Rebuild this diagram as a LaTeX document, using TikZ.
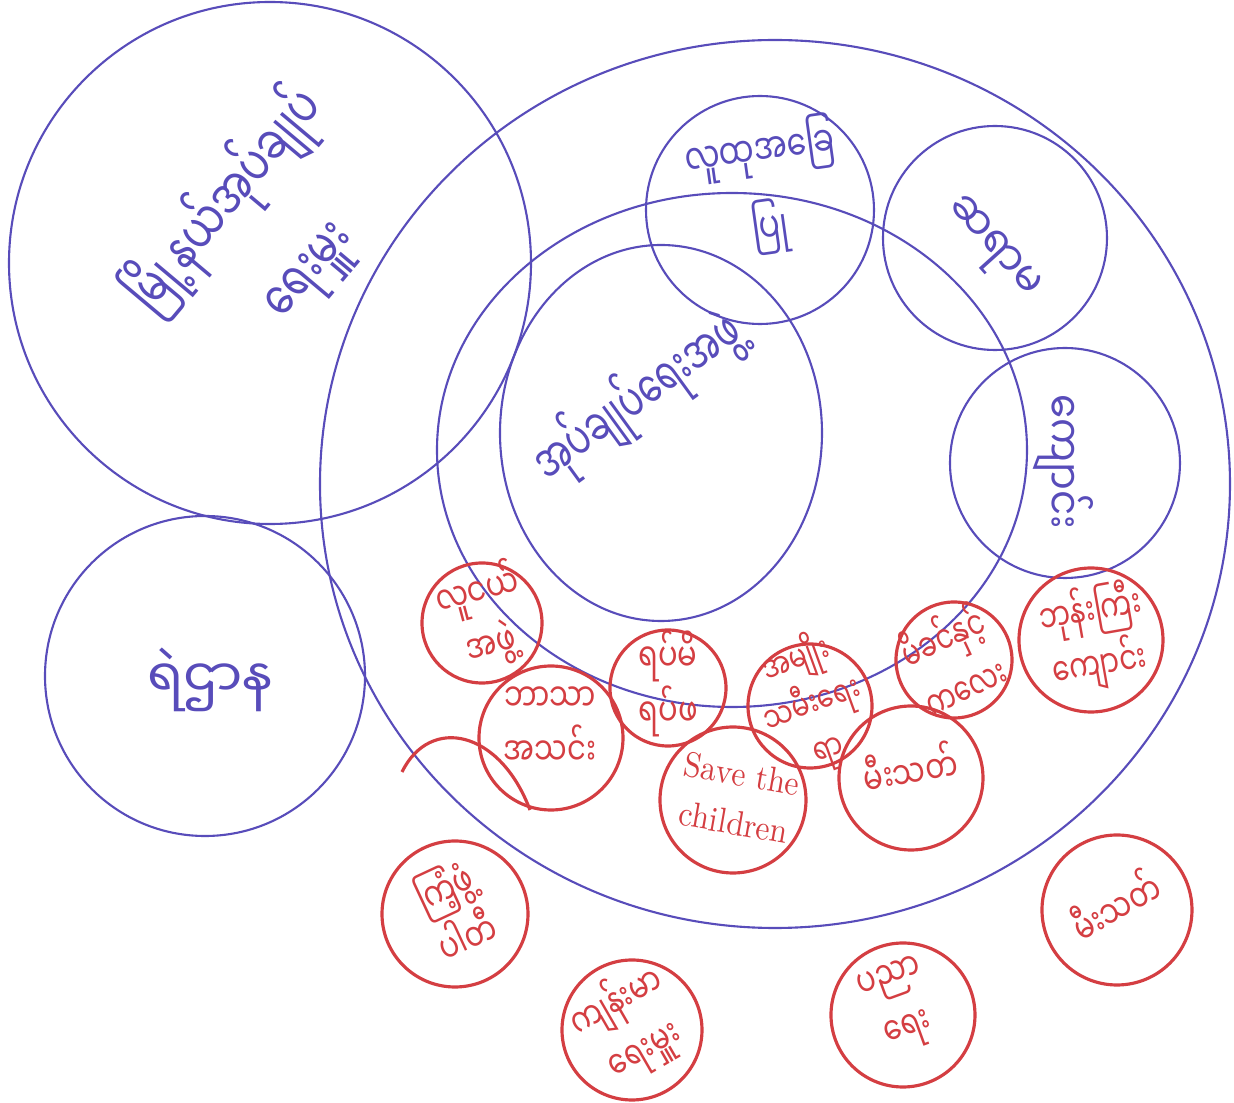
\documentclass[tikz,border=0pt]{standalone}
\usepackage{fontspec}
\newfontfamily\mmfont[Script=Myanmar]{Noto Sans Myanmar UI}
\definecolor{penblue}{RGB}{88,76,186}
\definecolor{penred}{RGB}{212,62,66}
\tikzset{
	bluering/.style={line width=0.6pt, color=penblue},
	redring/.style={line width=0.9pt, color=penred},
	bluetext/.style={text=penblue, font=\mmfont\fontsize{15}{26}\selectfont, align=center, inner sep=0pt},
	redtext/.style={text=penred, font=\mmfont\fontsize{11}{15.5}\selectfont, align=center, inner sep=0pt, xscale=0.75}
}

\begin{document}
\begin{tikzpicture}[x=1cm, y=-1cm]
			%%%%% START %%%%%
			\useasboundingbox (0, 0) rectangle (12.34, 11.03);
			
			\draw[bluering] (2.70, 2.63) circle (2.61);
			\draw[bluering] (7.75, 4.84) ellipse [x radius=4.55, y radius=4.44];
			\draw[bluering] (7.32, 4.50) ellipse [x radius=2.95, y radius=2.57];
			\draw[bluering] (6.61, 4.33) ellipse [x radius=1.61, y radius=1.88];
			\draw[bluering] (7.60, 2.10) circle (1.14);
			\draw[bluering] (9.95, 2.38) circle (1.12);
			\draw[bluering] (10.65, 4.63) circle (1.15);
			\draw[bluering] (2.05, 6.76) circle (1.60);
			
			\node[rotate=50, bluetext, xscale=0.72, font=\mmfont\fontsize{16}{30}\selectfont] (twp) at (2.66, 2.35) {မြို့နယ်အုပ်ချုပ်\\ရေးမှူး};
			\node[rotate=36, bluetext, xscale=0.66] (admin) at (6.38, 3.98) {အုပ်ချုပ်ရေးအဖွဲ့};
			\node[rotate=8, bluetext, xscale=0.74, font=\mmfont\fontsize{12}{22}\selectfont] (cbo) at (7.65, 1.88) {လူထုအခြေ\\ပြု};
			\node[rotate=-48, bluetext, xscale=0.9, font=\mmfont\fontsize{13}{20}\selectfont] (teacher) at (9.90, 2.50) {ဆရာမ};
			\node[rotate=-90, bluetext, xscale=0.85, font=\mmfont\fontsize{13}{20}\selectfont] (school) at (10.63, 4.62) {ကျောင်း};
			\node[bluetext, font=\mmfont\fontsize{15}{22}\selectfont] (police) at (2.10, 6.80) {ရဲဌာန};
			
			\draw[redring] (4.82, 6.23) circle (0.60);
			\draw[redring] (6.68, 6.88) circle (0.58);
			\draw[redring] (5.51, 7.38) circle (0.72);
			\draw[redring] (8.10, 7.06) circle (0.62);
			\draw[redring] (9.54, 6.60) circle (0.58);
			\draw[redring] (10.91, 6.40) circle (0.72);
			\draw[redring] (7.33, 8.00) circle (0.73);
			\draw[redring] (9.11, 7.78) circle (0.72);
			\draw[redring] (4.55, 9.14) circle (0.73);
			\draw[redring] (6.32, 10.30) circle (0.70);
			\draw[redring] (9.03, 10.15) circle (0.72);
			\draw[redring] (11.17, 9.10) circle (0.75);
			\draw[redring] (4.02, 7.72) .. controls (4.30, 7.15) and (5.00, 7.30) .. (5.30, 8.10);
			
			\node[rotate=15, redtext] (youth) at (4.84, 6.17) {လူငယ်\\အဖွဲ့};
			\node[redtext] (elders) at (6.68, 6.84) {ရပ်မိ\\ရပ်ဖ};
			\node[redtext] (relig) at (5.50, 7.26) {ဘာသာ\\အသင်း};
			\node[rotate=20, redtext, font=\mmfont\fontsize{10}{13.5}\selectfont] (women) at (8.12, 7.04) {အမျိုး\\သမီးရေး\\ရာ};
			\node[rotate=25, redtext, xscale=0.92] (mcwa) at (9.53, 6.60) {မိခင်နှင့်\\ကလေး};
			\node[rotate=10, redtext, xscale=0.95] (monk) at (10.95, 6.38) {ဘုန်းကြီး\\ကျောင်း};
			\node[rotate=-10, redtext, xscale=1.2, font=\fontsize{10}{14}\selectfont] (stc) at (7.38, 7.98) {Save the\\children};
			\node[rotate=10, redtext] (fire) at (9.10, 7.68) {မီးသတ်};
			\node[rotate=25, redtext] (party) at (4.55, 9.10) {ကြံ့ဖွံ့\\ပါတီ};
			\node[rotate=30, redtext] (health) at (6.30, 10.25) {ကျန်းမာ\\ရေးမှူး};
			\node[rotate=20, redtext] (edu) at (9.00, 10.07) {ပညာ\\ရေး};
			\node[rotate=30, redtext] (fire2) at (11.15, 9.05) {မီးသတ်};
			
			%%%%% END %%%%%
\end{tikzpicture}
\end{document}
